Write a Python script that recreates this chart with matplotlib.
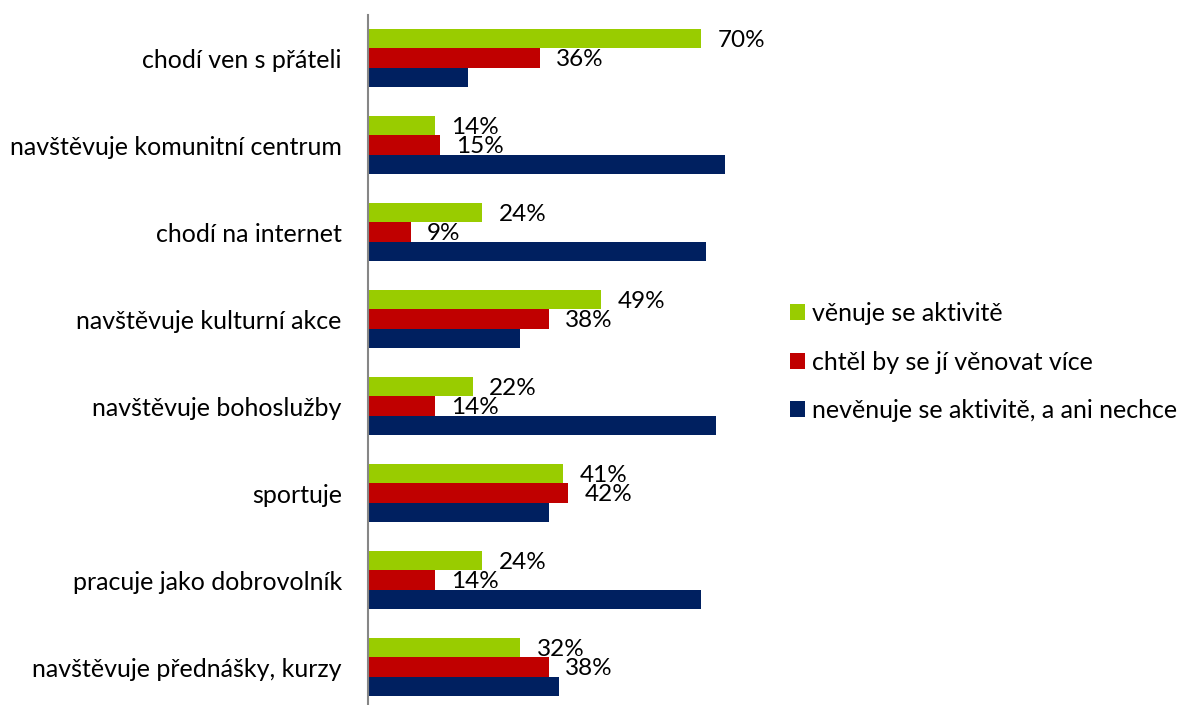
import numpy as np
import matplotlib
matplotlib.use('Agg')
import matplotlib.pyplot as plt

plt.rcParams['font.family'] = ['Lato', 'DejaVu Sans']

# Activities and shares (%) for each answer
categories = ['chodí ven s přáteli', 'navštěvuje komunitní centrum', 'chodí na internet',
              'navštěvuje kulturní akce', 'navštěvuje bohoslužby', 'sportuje',
              'pracuje jako dobrovolník', 'navštěvuje přednášky, kurzy']
does_it = [70, 14, 24, 49, 22, 41, 24, 32]
wants_more = [36, 15, 9, 38, 14, 42, 14, 38]
not_interested = [21, 75, 71, 32, 73, 38, 70, 40]

series_names = ['věnuje se aktivitě', 'chtěl by se jí věnovat více',
                'nevěnuje se aktivitě, a ani nechce']
colors = ['#99CC00', '#C00000', '#002060']
fs = 18
fs_val = 17.5

fig = plt.figure(figsize=(11.8, 7.05), dpi=100)
ax = fig.add_axes([0.312, -0.0078, 0.4034, 0.9872])

y = np.arange(len(categories))
h = 0.222
bars_g = ax.barh(y - h, does_it, height=h, color=colors[0], label=series_names[0])
bars_r = ax.barh(y, wants_more, height=h, color=colors[1], label=series_names[1])
bars_b = ax.barh(y + h, not_interested, height=h, color=colors[2], label=series_names[2])

# Value labels only for the first two series
for bars, vals in ((bars_g, does_it), (bars_r, wants_more)):
    for b, v in zip(bars, vals):
        ax.text(b.get_width() + 3.4, b.get_y() + b.get_height() / 2 + 0.02, f'{v}%',
                va='center', ha='left', fontsize=fs_val, color='black')

ax.set_xlim(0, 100)
ax.set_ylim(len(categories) - 0.5, -0.5)
ax.set_yticks(y)
ax.set_yticklabels(categories, fontsize=fs)
ax.tick_params(axis='y', length=0, pad=19)
ax.set_xticks([])
for s in ('top', 'right', 'bottom'):
    ax.spines[s].set_visible(False)
ax.spines['left'].set_color('#868686')
ax.spines['left'].set_linewidth(1.5)

fig.legend(loc='center left', bbox_to_anchor=(790 / 1180, 1 - 362 / 705),
           frameon=False, fontsize=fs, handlelength=0.6, handleheight=0.6,
           handletextpad=0.3, labelspacing=1.02, borderaxespad=0, borderpad=0)

fig.savefig('out.png', dpi=100)
